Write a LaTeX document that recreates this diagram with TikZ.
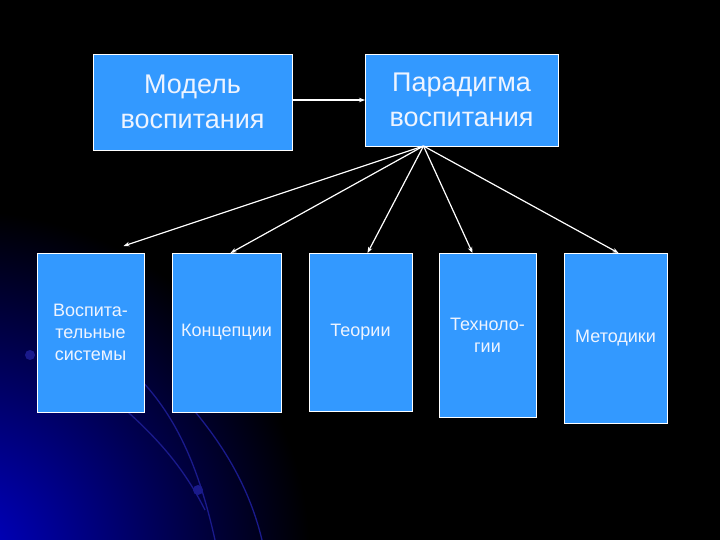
\documentclass[tikz,border=0pt]{standalone}
\usepackage{fontspec}
\setmainfont{Liberation Sans}
\usetikzlibrary{positioning, arrows.meta, calc}
\definecolor{boxblue}{HTML}{3399FF}
\definecolor{boxtext}{HTML}{EEF4FF}
\definecolor{glow}{HTML}{0000CC}
\definecolor{swoosh}{HTML}{1A1A8C}

\begin{document}
\begin{tikzpicture}[x=1pt, y=-1pt,
    head/.style={rectangle, draw=white, line width=0.9pt, fill=boxblue, text=boxtext,
                 align=center, inner sep=0pt, outer sep=0pt,
                 font=\fontsize{27}{35}\selectfont},
    leaf/.style={rectangle, draw=white, line width=0.9pt, fill=boxblue, text=boxtext,
                 align=center, inner sep=0pt, outer sep=0pt, minimum height=159pt,
                 font=\fontsize{18}{22}\selectfont},
    arrow/.style={-{Stealth[length=6pt, width=4.5pt]}, line width=1.2pt, white}
  ]
  % slide background
  \fill[black] (0,0) rectangle (720,540);
  \begin{scope}
    \clip (0,0) rectangle (720,540);
    \shade[inner color=glow, outer color=black] (-40,560) circle (350pt);
    \draw[swoosh, line width=1.3pt] (100,345) .. controls (165,390) and (195,450) .. (215,540);
    \draw[swoosh, line width=1.3pt] (120,405) .. controls (160,440) and (185,470) .. (205,510);
    \draw[swoosh, line width=1.3pt] (185,400) .. controls (225,445) and (250,490) .. (262,540);
    \fill[swoosh] (30,355) circle (5pt) (198,490) circle (5pt);
  \end{scope}
  \useasboundingbox (0,0) rectangle (720,540);

  \node[head, minimum width=199pt, minimum height=96pt] (mod) at (192.5,102) {Модель\\воспитания};
  \node[head, minimum width=193pt, minimum height=92pt, right=73pt of mod.north east, anchor=north west] (par) {Парадигма\\воспитания};

  \node[leaf, minimum width=107pt, anchor=north west] (vs) at (37,253) {Воспита-\\тельные\\системы};
  \node[leaf, minimum width=109pt, right=28pt of vs.north east, anchor=north west] (kon) {Концепции};
  \node[leaf, minimum width=103pt, minimum height=158pt, right=28pt of kon.north east, anchor=north west] (teo) {Теории};
  \node[leaf, minimum width=97pt, minimum height=164pt, right=27pt of teo.north east, anchor=north west] (teh) {Техноло-\\гии};
  \node[leaf, minimum width=103pt, minimum height=170pt, right=28pt of teh.north east, anchor=north west] (met) {Методики};

  \coordinate (hub) at ([xshift=-38pt]par.south);

  \draw[arrow] (par.west -| mod.east) -- (par.west);
  \draw[arrow] (hub) -- ([xshift=33pt, yshift=7pt]vs.north);
  \draw[arrow] (hub) -- ([xshift=4pt]kon.north);
  \draw[arrow] (hub) -- ([xshift=7pt]teo.north);
  \draw[arrow] (hub) -- ([xshift=-15pt]teh.north);
  \draw[arrow] (hub) -- ([xshift=3pt]met.north);
\end{tikzpicture}
\end{document}
